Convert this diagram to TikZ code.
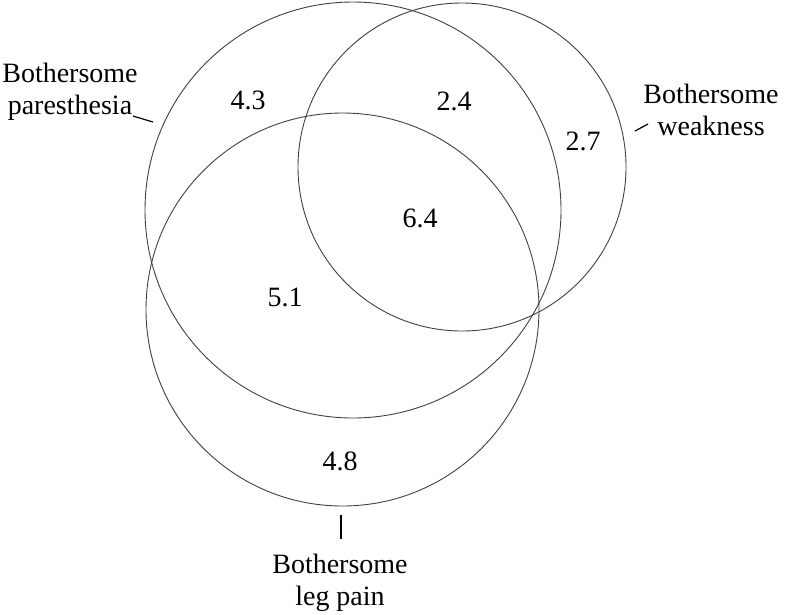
\documentclass[tikz,border=0pt]{standalone}
\usepackage{fontspec}
\setmainfont{Liberation Serif}

\begin{document}
\begin{tikzpicture}[
    x=1pt, y=-1pt,
    every node/.style={font=\fontsize{28}{32}\selectfont},
    cercle/.style={draw=black!75, line width=0.9pt, circle, inner sep=0pt},
    valeur/.style={inner sep=0pt},
    etiquette/.style={align=center, inner sep=0pt},
    trait/.style={line width=1.2pt},
    ]
\useasboundingbox (0,0) rectangle (786,614);

% Cercles
\node[cercle, minimum size=416pt] (paresthesie) at (353,210) {};
\node[cercle, minimum size=328pt] (faiblesse) at (462,167) {};
\node[cercle, minimum size=393pt] (jambe) at (342.5,309.5) {};

% Valeurs
\node[valeur] (v43) at (248,100) {4.3};
\node[valeur] (v24) at (454,101) {2.4};
\node[valeur] (v27) at (583,141) {2.7};
\node[valeur] (v64) at (420,218) {6.4};
\node[valeur] (v51) at (285,297) {5.1};
\node[valeur] (v48) at (340,461) {4.8};

% Etiquettes
\node[etiquette] (lparesthesie) at (70,91.5) {Bothersome\\paresthesia};
\node[etiquette] (lfaiblesse) at (711,109.5) {Bothersome\\weakness};
\node[etiquette] (ljambe) at (340,582.5) {Bothersome\\leg pain};

% Traits
\coordinate (p1) at (133,116);
\coordinate (p2) at (153,122);
\coordinate (f1) at (635,131);
\coordinate (f2) at (648,124);
\coordinate (j1) at (341,515);
\coordinate (j2) at (341,539);
\draw[trait] (p1) -- (p2);
\draw[trait] (f1) -- (f2);
\draw[trait] (j1) -- (j2);

\end{tikzpicture}
\end{document}
